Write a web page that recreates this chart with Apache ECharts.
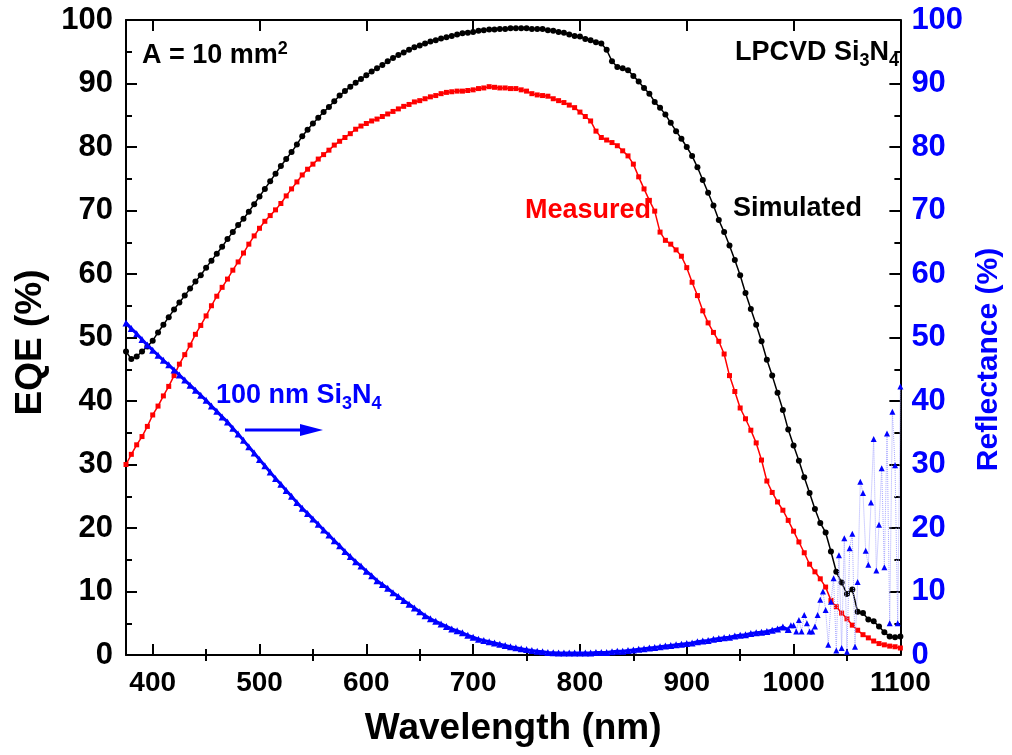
<!DOCTYPE html>
<html>
<head>
<meta charset="utf-8">
<script src="https://cdn.jsdelivr.net/npm/echarts@6/dist/echarts.min.js"></script>
<style>html,body{margin:0;padding:0;background:#fff;}#c{width:1012px;height:755px;}</style>
</head>
<body>
<div id="c"></div>
<script>
// Wavelength grid (nm) for EQE curves
const wl = [];
for (let w = 375; w <= 1100; w += 5) wl.push(w);

// Simulated EQE (%)
const simulated = [
47.8,46.6,47.0,47.8,48.6,49.5,50.8,52.0,53.2,54.4,55.5,56.6,57.7,58.8,59.8,61.0,62.1,63.2,64.3,65.5,
66.6,67.7,68.7,69.8,71.0,72.2,73.4,74.6,75.8,77.0,78.1,79.2,80.4,81.7,82.7,83.7,84.6,85.5,86.3,87.2,
88.1,88.8,89.5,90.1,90.7,91.3,91.9,92.4,92.9,93.5,94.0,94.5,94.9,95.3,95.7,96.0,96.3,96.6,96.8,97.1,
97.3,97.5,97.7,97.9,98.0,98.1,98.3,98.4,98.5,98.5,98.6,98.6,98.7,98.7,98.7,98.7,98.6,98.6,98.6,98.4,
98.3,98.1,98.0,97.7,97.5,97.4,97.0,96.8,96.5,96.3,95.3,93.5,92.6,92.4,92.1,91.2,90.3,89.3,88.4,87.1,
86.2,85.1,83.8,82.5,81.3,80.0,78.6,76.8,74.8,72.8,70.8,68.5,66.6,64.5,62.2,59.8,57.0,54.5,52.0,49.4,
46.5,44.0,41.3,38.6,35.5,33.0,30.6,28.0,25.5,23.0,20.8,19.3,16.3,13.1,11.4,9.6,10.3,6.8,6.6,5.6,
5.3,4.5,3.6,2.9,2.8,2.9
];

// Measured EQE (%)
const measured = [
30.0,31.6,33.1,34.4,36.0,37.8,39.2,40.8,42.3,44.0,45.8,47.3,48.8,50.5,51.9,53.4,55.0,56.5,57.9,59.2,
60.6,61.9,63.3,64.7,66.0,67.2,68.3,69.2,70.1,71.1,72.3,73.4,74.5,75.6,76.5,77.3,78.1,78.8,79.5,80.3,
80.9,81.5,82.1,82.8,83.3,83.7,84.1,84.4,84.8,85.2,85.6,86.0,86.4,86.7,87.1,87.3,87.6,87.9,88.1,88.4,
88.6,88.7,88.8,88.8,88.9,89.0,89.2,89.3,89.5,89.4,89.3,89.3,89.2,89.2,89.0,88.8,88.4,88.2,88.1,88.0,
87.6,87.3,87.0,86.6,86.2,85.5,84.8,84.1,82.5,81.5,81.1,80.7,80.2,79.4,78.6,77.3,75.3,73.4,71.6,69.9,
66.6,65.3,64.7,63.8,62.8,61.0,58.7,56.6,54.2,52.3,50.8,49.4,47.4,44.0,41.5,38.9,37.2,35.4,33.4,30.7,
27.4,25.6,24.1,22.8,21.2,19.5,17.8,16.1,14.3,13.1,12.0,10.7,8.6,7.6,6.6,5.7,4.7,3.9,3.2,2.7,
2.2,1.8,1.6,1.4,1.3,1.1
];

// Reflectance (%) wavelengths and values
const reflWl = [
375,380,385,390,395,400,405,410,415,420,425,430,435,440,445,450,455,460,465,470,
475,480,485,490,495,500,505,510,515,520,525,530,535,540,545,550,555,560,565,570,
575,580,585,590,595,600,605,610,615,620,625,630,635,640,645,650,655,660,665,670,
675,680,685,690,695,700,705,710,715,720,725,730,735,740,745,750,755,760,765,770,
775,780,785,790,795,800,805,810,815,820,825,830,835,840,845,850,855,860,865,870,
875,880,885,890,895,900,905,910,915,920,925,930,935,940,945,950,955,960,965,970,
975,980,985,990,995,
997.5,1000,1002.5,1005,1007.5,1010,1012.5,1015,1017.5,1020,1022.5,1025,1027.5,1030,1032.5,1035,1037.5,1040,1042.5,1045,
1047.5,1050,1052.5,1055,1057.5,1060,1062.5,1065,1067.5,1070,1072.5,1075,1077.5,1080,1082.5,1085,1087.5,1090,1092.5,1095,
1097.5,1100
];
const reflectance = [
52.3,51.4,50.6,49.7,48.8,48.0,47.2,46.4,45.7,44.9,44.1,43.3,42.5,41.7,40.9,40.1,39.2,38.4,37.5,36.7,
35.7,34.8,33.8,32.8,31.8,30.8,29.8,28.8,27.8,26.9,25.9,25.0,24.0,23.1,22.3,21.4,20.6,19.7,18.9,18.0,
17.2,16.3,15.5,14.7,14.0,13.2,12.5,11.7,11.1,10.5,9.8,9.2,8.6,8.0,7.4,6.8,6.2,5.7,5.3,4.9,
4.5,4.1,3.8,3.5,3.1,2.8,2.5,2.3,2.1,1.9,1.7,1.5,1.3,1.15,1.0,0.85,0.7,0.6,0.5,0.4,
0.35,0.3,0.3,0.3,0.3,0.3,0.3,0.3,0.4,0.4,0.4,0.5,0.6,0.6,0.7,0.8,0.9,1.0,1.1,1.2,
1.3,1.4,1.5,1.6,1.7,1.8,1.9,2.1,2.2,2.3,2.5,2.6,2.7,2.8,3.0,3.1,3.2,3.4,3.5,3.6,
3.7,3.9,4.1,4.4,4.0,
4.7,4.7,3.7,5.5,3.7,6.3,5.0,3.7,3.7,4.5,6.3,8.7,10.0,7.1,1.6,8.4,12.1,0.7,15.7,1.1,
18.4,0.5,16.8,19.1,1.3,11.5,27.3,25.5,16.4,14.2,24.0,34.0,13.3,20.5,29.4,13.8,34.9,5.0,38.3,29.9,
5.0,42.3
];
// index where the reflectance becomes noisy (995 nm)
const reflSmoothEnd = reflWl.indexOf(995);

// Axis tick values
const xMajorTicks = [400,500,600,700,800,900,1000,1100];
const xMinorTicks = [450,550,650,750,850,950,1050];

const FONT = "'Liberation Sans', Arial, sans-serif";
const zip = (a, b) => a.map((v, i) => [v, b[i]]);
const reflPairs = zip(reflWl, reflectance);

const chart = echarts.init(document.getElementById('c'), null, {renderer: 'canvas'});

const baseX = {
  type: 'value', min: 375, max: 1100, gridIndex: 0,
  splitLine: {show: false},
  axisLine: {show: true, onZero: false, lineStyle: {color: '#000', width: 2}}
};

const option = {
  backgroundColor: '#fff',
  animation: false,
  grid: {left: 126, right: 99, top: 20, bottom: 100, containLabel: false},
  xAxis: [
    Object.assign({}, baseX, {
      position: 'bottom',
      axisTick: {show: true, inside: true, length: 11, lineStyle: {color: '#000', width: 2}, customValues: xMajorTicks},
      axisLabel: {show: true, customValues: xMajorTicks, formatter: v => String(v), color: '#000', fontSize: 28, fontWeight: 'bold', fontFamily: FONT, margin: 14},
      name: 'Wavelength (nm)', nameLocation: 'middle', nameGap: 55,
      nameTextStyle: {color: '#000', fontSize: 37, fontWeight: 'bold', fontFamily: FONT}
    }),
    Object.assign({}, baseX, {
      position: 'bottom',
      axisLine: {show: false},
      axisTick: {show: true, inside: true, length: 6, lineStyle: {color: '#000', width: 2}, customValues: xMinorTicks},
      axisLabel: {show: false, customValues: xMinorTicks}
    }),
    Object.assign({}, baseX, {
      position: 'top',
      axisTick: {show: true, inside: true, length: 11, lineStyle: {color: '#000', width: 2}, customValues: xMajorTicks},
      axisLabel: {show: false, customValues: xMajorTicks}
    }),
    Object.assign({}, baseX, {
      position: 'top',
      axisLine: {show: false},
      axisTick: {show: true, inside: true, length: 6, lineStyle: {color: '#000', width: 2}, customValues: xMinorTicks},
      axisLabel: {show: false, customValues: xMinorTicks}
    })
  ],
  yAxis: [
    {
      type: 'value', min: 0, max: 100, interval: 10, position: 'left',
      splitLine: {show: false},
      axisLine: {show: true, lineStyle: {color: '#000', width: 2}},
      axisTick: {show: true, inside: true, length: 11, lineStyle: {color: '#000', width: 2}},
      minorTick: {show: true, splitNumber: 2, length: 6, lineStyle: {color: '#000', width: 2}},
      axisLabel: {color: '#000', fontSize: 31, fontWeight: 'bold', fontFamily: FONT, margin: 13},
      name: 'EQE (%)', nameLocation: 'middle', nameGap: 77,
      nameTextStyle: {color: '#000', fontSize: 37, fontWeight: 'bold', fontFamily: FONT, padding: [0, 10, 0, 0]}
    },
    {
      type: 'value', min: 0, max: 100, interval: 10, position: 'right',
      splitLine: {show: false},
      axisLine: {show: true, lineStyle: {color: '#000', width: 2}},
      axisTick: {show: true, inside: true, length: 11, lineStyle: {color: '#000', width: 2}},
      minorTick: {show: true, splitNumber: 2, length: 6, lineStyle: {color: '#000', width: 2}},
      axisLabel: {color: '#0000ff', fontSize: 31, fontWeight: 'bold', fontFamily: FONT, margin: 11},
      name: 'Reflectance (%)', nameLocation: 'middle', nameGap: 63, nameRotate: 90,
      nameTextStyle: {color: '#0000ff', fontSize: 30, fontWeight: 'bold', fontFamily: FONT, padding: [0, 44, 0, 0]}
    }
  ],
  series: [
    {
      name: 'Simulated', type: 'line', xAxisIndex: 0, yAxisIndex: 0,
      data: zip(wl, simulated),
      symbol: 'circle', symbolSize: 6, showSymbol: true,
      itemStyle: {color: '#000'}, lineStyle: {color: '#000', width: 1.5}, z: 3
    },
    {
      name: 'Measured', type: 'line', xAxisIndex: 0, yAxisIndex: 0,
      data: zip(wl, measured),
      symbol: 'rect', symbolSize: 5, showSymbol: true,
      itemStyle: {color: '#ff0000'}, lineStyle: {color: '#ff0000', width: 1.5}, z: 4
    },
    {
      name: 'Reflectance', type: 'line', xAxisIndex: 0, yAxisIndex: 1,
      data: reflPairs.slice(0, reflSmoothEnd + 1),
      symbol: 'triangle', symbolSize: 7, showSymbol: true,
      itemStyle: {color: '#0000ff'}, lineStyle: {color: '#0000ff', width: 3}, z: 5
    },
    {
      name: 'Reflectance noisy', type: 'line', xAxisIndex: 0, yAxisIndex: 1,
      data: reflPairs.slice(reflSmoothEnd),
      symbol: 'triangle', symbolSize: 6, showSymbol: true,
      itemStyle: {color: '#0000ff'}, lineStyle: {color: '#a8a8ff', width: 1, type: 'dotted'}, z: 5
    }
  ],
  graphic: [
    {
      type: 'text', x: 142, y: 56, z: 10,
      style: {
        text: '{m|A = 10 mm}{s|2}', fill: '#000', align: 'left', verticalAlign: 'middle',
        rich: {
          m: {fontSize: 27, fontWeight: 'bold', fontFamily: FONT, fill: '#000', lineHeight: 32},
          s: {fontSize: 18, fontWeight: 'bold', fontFamily: FONT, fill: '#000', lineHeight: 14, verticalAlign: 'top'}
        }
      }
    },
    {
      type: 'text', x: 899, y: 53, z: 10,
      style: {
        text: '{m|LPCVD Si}{b|3}{m|N}{b|4}', fill: '#000', align: 'right', verticalAlign: 'middle',
        rich: {
          m: {fontSize: 27, fontWeight: 'bold', fontFamily: FONT, fill: '#000', lineHeight: 34},
          b: {fontSize: 18, fontWeight: 'bold', fontFamily: FONT, fill: '#000', lineHeight: 14, verticalAlign: 'bottom'}
        }
      }
    },
    {
      type: 'text', x: 525, y: 211, z: 10,
      style: {text: 'Measured', fill: '#ff0000', fontSize: 27, fontWeight: 'bold', fontFamily: FONT, align: 'left', verticalAlign: 'middle'}
    },
    {
      type: 'text', x: 733, y: 209, z: 10,
      style: {text: 'Simulated', fill: '#000', fontSize: 27, fontWeight: 'bold', fontFamily: FONT, align: 'left', verticalAlign: 'middle'}
    },
    {
      type: 'text', x: 216, y: 396, z: 10,
      style: {
        text: '{m|100 nm Si}{b|3}{m|N}{b|4}', fill: '#0000ff', align: 'left', verticalAlign: 'middle',
        rich: {
          m: {fontSize: 27, fontWeight: 'bold', fontFamily: FONT, fill: '#0000ff', lineHeight: 34},
          b: {fontSize: 18, fontWeight: 'bold', fontFamily: FONT, fill: '#0000ff', lineHeight: 14, verticalAlign: 'bottom'}
        }
      }
    },
    {
      type: 'line', z: 10,
      shape: {x1: 245, y1: 430, x2: 304, y2: 430},
      style: {stroke: '#0000ff', lineWidth: 3}
    },
    {
      type: 'polygon', z: 10,
      shape: {points: [[300, 424], [323, 430], [300, 436]]},
      style: {fill: '#0000ff'}
    }
  ]
};
chart.setOption(option);
</script>
</body>
</html>
